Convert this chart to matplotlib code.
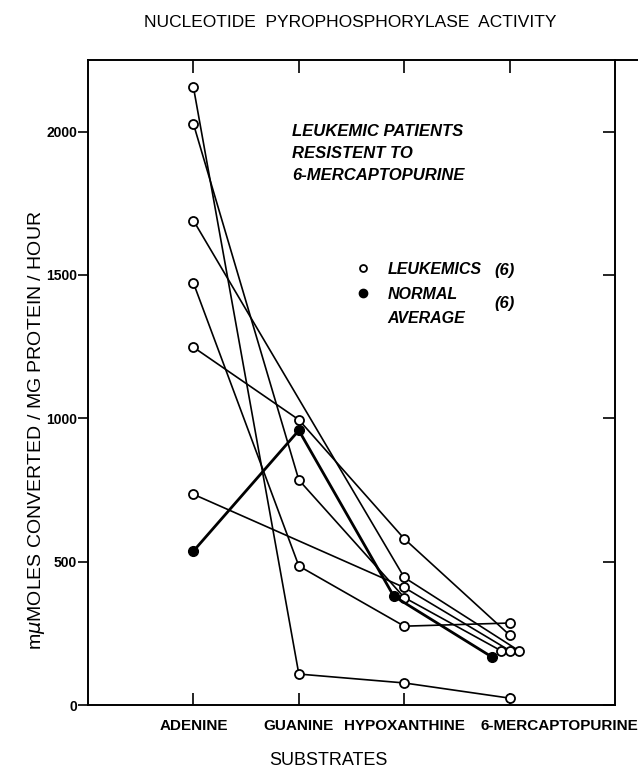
import numpy as np
import matplotlib
matplotlib.use("Agg")
import matplotlib.pyplot as plt
import matplotlib.transforms as mtransforms
from matplotlib.lines import Line2D

plt.rcParams['font.family'] = ['Liberation Sans Narrow', 'Liberation Sans', 'DejaVu Sans']

# substrates on the x axis
substrates = ['ADENINE', 'GUANINE', 'HYPOXANTHINE', '6-MERCAPTOPURINE']

# leukemic patients (mu-moles converted / mg protein / hour), nan = not measured
patient_1 = [2155, 108, 77, 24]
patient_2 = [2027, 785, 375, 190]
patient_3 = [1690, np.nan, 445, 190]
patient_4 = [1472, 485, 275, 286]
patient_5 = [1248, 995, 580, 244]
patient_6 = [735, np.nan, 410, 190]
leukemics = [patient_1, patient_2, patient_3, patient_4, patient_5, patient_6]

# normal average
normal_avg = [537, 958, 380, 168]

# small horizontal shifts so overlapping circles stay visible
leuk_shift = [[0, 0, 0, 0], [0, 0, 0, -0.085], [0, 0, 0, 0.085],
              [0, 0, 0, 0], [0, 0, 0, 0], [0, 0, 0, 0]]
normal_shift = [0, 0, -0.1, -0.17]

fig = plt.figure(figsize=(6.38, 7.69), dpi=100)
ax = fig.add_axes([0.138, 0.0832, 0.826, 0.8388])

xpos = np.arange(len(substrates))

for vals, sh in zip(leukemics, leuk_shift):
    v = np.array(vals, dtype=float)
    x = xpos + np.array(sh)
    ok = ~np.isnan(v)
    ax.plot(x[ok], v[ok], color='black', lw=1.2, marker='o', ms=6.5,
            mfc='white', mec='black', mew=1.3, zorder=3)

ax.plot(xpos + np.array(normal_shift), normal_avg, color='black', lw=2.0,
        marker='o', ms=7, mfc='black', mec='black', zorder=4)

ax.set_xlim(-1, 4)
ax.set_ylim(0, 2250)

ax.set_yticks([0, 500, 1000, 1500, 2000])
ax.set_yticklabels(['0', '500', '1000', '1500', '2000'], fontsize=10, fontweight='bold')
ax.tick_params(axis='y', direction='out', length=7, width=1.2, pad=1, right=True)
# right side ticks point inward
for t in ax.yaxis.get_major_ticks():
    t.tick2line.set_marker(matplotlib.lines.TICKLEFT)
    t.tick2line.set_markersize(9)

ax.set_xticks(xpos)
ax.set_xticklabels(substrates, fontsize=11, fontweight='bold')
ax.tick_params(axis='x', direction='in', length=9, width=1.2, pad=10, top=True)
last = ax.get_xticklabels()[-1]
last.set_horizontalalignment('left')
last.set_transform(last.get_transform() +
                   mtransforms.ScaledTranslation(-0.29, 0, fig.dpi_scale_trans))

for s in ax.spines.values():
    s.set_linewidth(1.4)

# top rule runs a little past the right frame
ax.add_line(Line2D([1, 1.045], [1, 1], transform=ax.transAxes, color='black',
                   lw=1.4, clip_on=False))

ax.set_ylabel('m$\\mu$MOLES CONVERTED / MG PROTEIN / HOUR', fontsize=14)
ax.yaxis.set_label_coords(-0.077, 0.426)

fig.text(0.514, 0.0117, 'SUBSTRATES', fontsize=13, ha='center', va='center')
fig.text(0.549, 0.971, 'NUCLEOTIDE  PYROPHOSPHORYLASE  ACTIVITY',
         fontsize=12.5, ha='center', va='center')

ax.text(0.387, 0.90, 'LEUKEMIC PATIENTS\nRESISTENT TO\n6-MERCAPTOPURINE',
        transform=ax.transAxes, fontsize=12, fontstyle='italic', fontweight='bold',
        va='top', ha='left', linespacing=1.55)

handles = [Line2D([], [], ls='none', marker='o', ms=5, mfc='white', mec='black', mew=1.3),
           Line2D([], [], ls='none', marker='o', ms=6, mfc='black', mec='black'),
           Line2D([], [], ls='none')]
leg = ax.legend(handles, ['LEUKEMICS', 'NORMAL', 'AVERAGE'], loc='upper left',
                bbox_to_anchor=(0.48, 0.709), frameon=False, handlelength=1.0,
                handletextpad=1.0, labelspacing=0.6,
                prop={'size': 11.5, 'style': 'italic', 'weight': 'bold'})
ax.text(0.772, 0.673, '(6)', transform=ax.transAxes, fontsize=12,
        fontstyle='italic', fontweight='bold', va='center')
ax.text(0.772, 0.623, '(6)', transform=ax.transAxes, fontsize=12,
        fontstyle='italic', fontweight='bold', va='center')

fig.savefig('out.png', dpi=100)
